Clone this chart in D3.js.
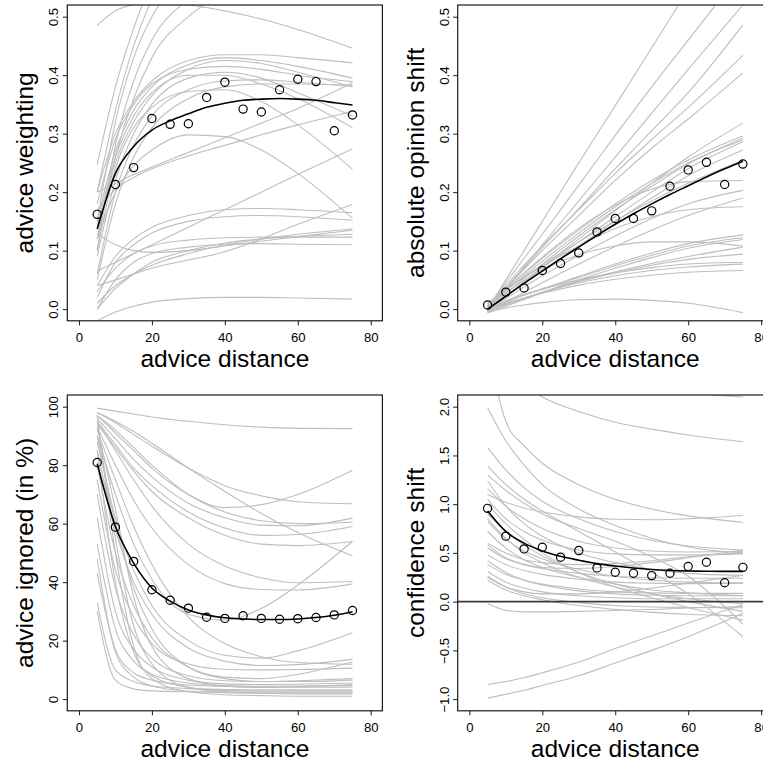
<!DOCTYPE html>
<html><head><meta charset="utf-8">
<script src="https://cdn.jsdelivr.net/npm/d3@7"></script>
<style>body{margin:0;background:#fff}svg{display:block}</style>
</head><body>
<svg id="chart" width="763" height="763"></svg>
<script>
// ---------- data ----------
const xGrid = [5, 10, 15, 20, 30, 40, 50, 60, 75];          // x positions of individual (grey) curves
const xPoints = [5, 10, 15, 20, 25, 30, 35, 40, 45, 50, 55, 60, 65, 70, 75];
const xTicks = [0, 20, 40, 60, 80];
const xLabel = "advice distance";

// panel 1: advice weighting
const weightCurves = [
  [0.485, 0.51, 0.521, 0.525, 0.52, 0.51, 0.496, 0.478, 0.446],
  [0.247, 0.38, 0.48, 0.56, 0.65, 0.7, 0.72, 0.72, 0.7],
  [0.20, 0.34, 0.45, 0.53, 0.62, 0.66, 0.68, 0.67, 0.64],
  [0.15, 0.32, 0.43, 0.5, 0.57, 0.6, 0.6, 0.58, 0.55],
  [0.10, 0.28, 0.39, 0.46, 0.53, 0.57, 0.58, 0.57, 0.55],
  [0.12, 0.26, 0.36, 0.43, 0.5, 0.54, 0.56, 0.56, 0.55],
  [0.2, 0.3, 0.355, 0.39, 0.425, 0.435, 0.435, 0.43, 0.421],
  [0.15, 0.27, 0.34, 0.38, 0.418, 0.43, 0.425, 0.415, 0.395],
  [0.12, 0.25, 0.32, 0.365, 0.41, 0.425, 0.42, 0.405, 0.38],
  [0.18, 0.29, 0.35, 0.385, 0.41, 0.415, 0.41, 0.40, 0.389],
  [0.09, 0.22, 0.3, 0.35, 0.395, 0.405, 0.395, 0.37, 0.33],
  [0.14, 0.26, 0.33, 0.37, 0.4, 0.4, 0.385, 0.36, 0.31],
  [0.1, 0.24, 0.31, 0.345, 0.372, 0.375, 0.355, 0.315, 0.239],
  [0.12, 0.2, 0.245, 0.272, 0.298, 0.295, 0.272, 0.232, 0.155],
  [0.06, 0.2, 0.28, 0.33, 0.375, 0.39, 0.392, 0.388, 0.381],
  [0.2, 0.215, 0.23, 0.243, 0.268, 0.293, 0.318, 0.343, 0.387],
  [0.17, 0.205, 0.225, 0.24, 0.262, 0.28, 0.298, 0.315, 0.338],
  [0.065, 0.08, 0.095, 0.11, 0.14, 0.17, 0.2, 0.23, 0.274],
  [0.04, 0.05, 0.06, 0.07, 0.084, 0.098, 0.12, 0.145, 0.179],
  [0.04, 0.09, 0.12, 0.14, 0.16, 0.17, 0.172, 0.17, 0.165],
  [0.02, 0.08, 0.11, 0.13, 0.15, 0.158, 0.16, 0.158, 0.152],
  [0.03, 0.07, 0.095, 0.108, 0.118, 0.122, 0.123, 0.123, 0.123],
  [0.13, 0.11, 0.1, 0.097, 0.1, 0.108, 0.116, 0.124, 0.135],
  [0.0, 0.05, 0.08, 0.095, 0.106, 0.111, 0.112, 0.111, 0.110],
  [0.01, 0.04, 0.06, 0.075, 0.095, 0.11, 0.12, 0.128, 0.137],
  [-0.02, -0.005, 0.005, 0.012, 0.018, 0.02, 0.02, 0.019, 0.017],
  [0.0, 0.035, 0.06, 0.08, 0.1, 0.113, 0.12, 0.124, 0.128],
  [0.05, 0.18, 0.26, 0.31, 0.36, 0.38, 0.385, 0.385, 0.383]
];
const weightMean = [0.137, 0.232, 0.278, 0.306, 0.322, 0.334, 0.345, 0.352, 0.357, 0.359, 0.36, 0.359, 0.357, 0.353, 0.349];
const weightPoints = [0.162, 0.213, 0.242, 0.326, 0.316, 0.317, 0.362, 0.388, 0.342, 0.337, 0.375, 0.393, 0.389, 0.305, 0.332];
const weightTicks = [0, 0.1, 0.2, 0.3, 0.4, 0.5];

// panel 2: absolute opinion shift
const shiftCurves = [
  [0.0, 0.05, 0.1, 0.15, 0.25, 0.348, 0.447, 0.546, 0.695],
  [0.003, 0.045, 0.087, 0.128, 0.212, 0.297, 0.38, 0.46, 0.58],
  [-0.005, 0.034, 0.072, 0.11, 0.185, 0.26, 0.335, 0.41, 0.52],
  [0.0, 0.036, 0.07, 0.105, 0.172, 0.24, 0.305, 0.37, 0.486],
  [0.005, 0.04, 0.075, 0.108, 0.17, 0.232, 0.29, 0.345, 0.434],
  [0.0, 0.035, 0.068, 0.1, 0.16, 0.22, 0.275, 0.325, 0.404],
  [-0.004, 0.022, 0.047, 0.072, 0.12, 0.168, 0.215, 0.26, 0.318],
  [0.006, 0.034, 0.061, 0.087, 0.135, 0.18, 0.22, 0.255, 0.296],
  [0.0, 0.026, 0.052, 0.077, 0.125, 0.17, 0.21, 0.248, 0.292],
  [0.004, 0.031, 0.057, 0.082, 0.13, 0.175, 0.215, 0.25, 0.289],
  [-0.003, 0.022, 0.046, 0.07, 0.115, 0.158, 0.2, 0.24, 0.286],
  [0.0, 0.022, 0.044, 0.066, 0.108, 0.15, 0.19, 0.228, 0.272],
  [0.008, 0.032, 0.055, 0.076, 0.115, 0.151, 0.185, 0.215, 0.255],
  [0.005, 0.034, 0.062, 0.089, 0.138, 0.178, 0.205, 0.218, 0.22],
  [-0.002, 0.018, 0.038, 0.057, 0.092, 0.125, 0.155, 0.18, 0.203],
  [-0.005, 0.012, 0.029, 0.045, 0.077, 0.107, 0.135, 0.16, 0.19],
  [0.01, 0.033, 0.054, 0.073, 0.108, 0.138, 0.158, 0.17, 0.175],
  [0.0, 0.012, 0.024, 0.035, 0.056, 0.077, 0.096, 0.112, 0.127],
  [0.002, 0.013, 0.024, 0.034, 0.054, 0.074, 0.092, 0.108, 0.122],
  [-0.006, 0.005, 0.016, 0.028, 0.05, 0.07, 0.088, 0.104, 0.119],
  [0.004, 0.028, 0.049, 0.067, 0.093, 0.108, 0.115, 0.115, 0.108],
  [-0.003, 0.008, 0.018, 0.028, 0.047, 0.062, 0.075, 0.085, 0.094],
  [0.002, 0.014, 0.025, 0.034, 0.05, 0.062, 0.071, 0.077, 0.08],
  [-0.002, 0.009, 0.019, 0.028, 0.045, 0.057, 0.066, 0.072, 0.077],
  [0.0, 0.01, 0.019, 0.027, 0.041, 0.051, 0.058, 0.063, 0.066],
  [-0.004, 0.007, 0.018, 0.029, 0.048, 0.064, 0.078, 0.09, 0.106],
  [-0.006, 0.002, 0.007, 0.011, 0.016, 0.017, 0.015, 0.01, -0.006]
];
const shiftMean = [0.0, 0.022, 0.044, 0.065, 0.086, 0.106, 0.126, 0.145, 0.163, 0.18, 0.196, 0.211, 0.226, 0.24, 0.253];
const shiftPoints = [0.007, 0.029, 0.036, 0.066, 0.078, 0.096, 0.132, 0.155, 0.155, 0.168, 0.21, 0.238, 0.251, 0.213, 0.248];
const shiftTicks = [0, 0.1, 0.2, 0.3, 0.4, 0.5];

// panel 3: advice ignored (in %)
const ignoredCurves = [
  [99.5, 98.5, 97.5, 96.5, 95, 93.8, 93, 92.6, 92.5],
  [97, 91, 85, 79, 70, 65.5, 66.5, 70, 78.3],
  [98, 94.5, 90.5, 86.5, 79, 73, 69.5, 67.5, 66.8],
  [96, 89, 82, 76, 67, 62, 59.5, 59.3, 61.9],
  [97, 92, 86, 80, 70, 64, 61, 60, 60.5],
  [95, 87, 79, 73, 64, 58.5, 56, 56.3, 59],
  [94, 86, 78, 71, 62, 56, 53, 52.5, 53.9],
  [98, 95, 91.5, 87.5, 79, 71, 63.5, 57, 49],
  [95, 85, 75, 66, 53, 45.5, 41.5, 39.8, 40.2],
  [93, 80, 68, 58.5, 46, 39.5, 37.5, 37.3, 39.4],
  [90, 70, 53, 41, 29, 27, 31, 39, 54],
  [88, 62, 44, 32, 20, 15, 14, 16.5, 22.7],
  [85, 58, 40, 29, 17.5, 13, 11.5, 11.8, 13.6],
  [80, 50, 32, 21, 11, 7.5, 7, 8.5, 12.7],
  [92, 75, 59, 46, 28, 19, 14.5, 12.5, 11.9],
  [75, 44, 28, 19, 12, 10.2, 10, 10.1, 10.6],
  [70, 38, 22, 14, 8, 6.3, 6, 6.3, 7],
  [62, 30, 17, 11, 6.5, 5.2, 5, 5.1, 5.5],
  [53, 24, 13, 8.5, 5.5, 4.6, 4.4, 4.5, 4.7],
  [43, 17, 9, 6.5, 4.8, 4.3, 4.1, 4.1, 4.1],
  [33, 10, 6, 4.5, 3.6, 3.3, 3.2, 3.2, 3.2],
  [30, 6.5, 3.5, 2.8, 2.5, 2.4, 2.4, 2.4, 2.4],
  [95, 55, 25, 12, 4, 2.5, 2, 1.8, 1.8],
  [97, 50, 18, 7, 2.5, 1.5, 1.2, 1.0, 1.0],
  [93, 65, 35, 18, 7, 4.5, 4, 4.2, 5],
  [90, 60, 38, 24, 11, 7, 6, 6, 6.5],
  [85, 40, 16, 8, 4, 3, 2.8, 2.8, 2.8],
  [48, 16, 7.5, 4.5, 2.7, 2.2, 2, 2, 2]
];
const ignoredMean = [80.5, 59, 46.5, 38, 33.5, 30.5, 28.8, 27.8, 27.4, 27.2, 27.2, 27.4, 27.9, 28.7, 29.9];
const ignoredPoints = [80.9, 58.8, 47.1, 37.4, 33.8, 31.1, 28.0, 27.6, 28.5, 27.6, 27.3, 27.5, 27.9, 28.8, 30.3];
const ignoredTicks = [0, 20, 40, 60, 80, 100];

// panel 4: confidence shift
const confCurves = [
  [2.5, 2.35, 2.22, 2.1, 1.95, 1.84, 1.77, 1.71, 1.64],
  [4.2, 3.6, 3.2, 2.9, 2.55, 2.35, 2.22, 2.15, 2.1],
  [2.6, 1.85, 1.6, 1.42, 1.2, 1.05, 0.95, 0.88, 0.815],
  [1.1, 1.02, 0.96, 0.92, 0.87, 0.845, 0.84, 0.85, 0.884],
  [1.99, 1.65, 1.4, 1.2, 0.95, 0.78, 0.65, 0.56, 0.5],
  [1.58, 1.35, 1.17, 1.03, 0.85, 0.72, 0.63, 0.57, 0.53],
  [1.39, 1.2, 1.05, 0.93, 0.72, 0.51, 0.3, 0.08, -0.36],
  [1.3, 1.14, 1.01, 0.9, 0.75, 0.62, 0.46, 0.26, -0.23],
  [1.16, 0.98, 0.85, 0.75, 0.62, 0.55, 0.52, 0.51, 0.515],
  [1.05, 0.85, 0.72, 0.63, 0.53, 0.49, 0.48, 0.48, 0.49],
  [1.24, 0.98, 0.8, 0.67, 0.5, 0.4, 0.33, 0.29, 0.27],
  [0.82, 0.64, 0.52, 0.44, 0.33, 0.26, 0.22, 0.2, 0.19],
  [0.72, 0.55, 0.43, 0.35, 0.25, 0.18, 0.12, 0.09, 0.06],
  [0.58, 0.45, 0.38, 0.35, 0.34, 0.36, 0.4, 0.45, 0.53],
  [0.55, 0.44, 0.38, 0.34, 0.29, 0.26, 0.245, 0.24, 0.24],
  [0.48, 0.38, 0.32, 0.28, 0.23, 0.2, 0.19, 0.185, 0.19],
  [0.38, 0.28, 0.22, 0.18, 0.13, 0.1, 0.09, 0.085, 0.085],
  [0.31, 0.2, 0.14, 0.1, 0.06, 0.04, 0.03, 0.03, 0.03],
  [0.26, 0.15, 0.08, 0.04, -0.01, -0.04, -0.055, -0.06, -0.063],
  [0.22, 0.12, 0.06, 0.02, -0.04, -0.08, -0.11, -0.13, -0.145],
  [1.0, 0.8, 0.64, 0.5, 0.3, 0.15, 0.04, -0.06, -0.19],
  [0.9, 0.72, 0.58, 0.47, 0.3, 0.18, 0.08, 0.0, -0.10],
  [0.6, 0.5, 0.43, 0.4, 0.38, 0.39, 0.42, 0.46, 0.5],
  [0.85, 0.65, 0.5, 0.4, 0.25, 0.15, 0.08, 0.03, -0.02],
  [0.42, 0.3, 0.22, 0.17, 0.11, 0.08, 0.065, 0.06, 0.06],
  [0.25, 0.15, 0.1, 0.08, 0.08, 0.1, 0.14, 0.19, 0.27],
  [-0.02, -0.09, -0.105, -0.105, -0.1, -0.09, -0.08, -0.065, -0.05],
  [-0.85, -0.82, -0.78, -0.73, -0.62, -0.48, -0.35, -0.22, -0.03],
  [-0.99, -0.95, -0.91, -0.86, -0.76, -0.63, -0.5, -0.36, -0.12]
];
const confMean = [0.93, 0.72, 0.6, 0.52, 0.465, 0.425, 0.39, 0.365, 0.345, 0.33, 0.32, 0.315, 0.312, 0.31, 0.31];
const confPoints = [0.957, 0.672, 0.541, 0.558, 0.456, 0.524, 0.346, 0.301, 0.291, 0.267, 0.291, 0.36, 0.404, 0.194, 0.352];
const confTicks = [-1, -0.5, 0, 0.5, 1, 1.5, 2];

// ---------- layout ----------
const panels = [
  {col: 0, row: 0, ylab: "advice weighting", ylim: [0, 0.5], ticks: weightTicks, fmt: d3.format(".1f"), curves: weightCurves, mean: weightMean, points: weightPoints, zero: false},
  {col: 1, row: 0, ylab: "absolute opinion shift", ylim: [0, 0.5], ticks: shiftTicks, fmt: d3.format(".1f"), curves: shiftCurves, mean: shiftMean, points: shiftPoints, zero: false},
  {col: 0, row: 1, ylab: "advice ignored (in %)", ylim: [0, 100], ticks: ignoredTicks, fmt: d3.format("d"), curves: ignoredCurves, mean: ignoredMean, points: ignoredPoints, zero: false},
  {col: 1, row: 1, ylab: "confidence shift", ylim: [-1, 2], ticks: confTicks, fmt: d => d3.format(".1f")(d).replace("-", "\u2212"), curves: confCurves, mean: confMean, points: confPoints, zero: true}
];

const colW = 390.4, rowH = 390;
const mLeft = 67.3, mTop = 5;
const plotW = 315.1, plotH = 315.8;
const font = "'Liberation Sans', Arial, Helvetica, sans-serif";
const svg = d3.select("#chart");
const xLim = [0, 80];
const ext = (l) => { const e = 0.04 * (l[1] - l[0]); return [l[0] - e, l[1] + e]; };

panels.forEach((p, pi) => {
  const left = p.col * colW + mLeft;
  const top = p.row * rowH + mTop;
  const x = d3.scaleLinear().domain(ext(xLim)).range([left, left + plotW]);
  const y = d3.scaleLinear().domain(ext(p.ylim)).range([top + plotH, top]);
  const g = svg.append("g");

  g.append("clipPath").attr("id", "clip" + pi)
    .append("rect").attr("x", left).attr("y", top).attr("width", plotW).attr("height", plotH);
  const inner = g.append("g").attr("clip-path", `url(#clip${pi})`);

  const greyLine = d3.line().x((d, i) => x(xGrid[i])).y(d => y(d)).curve(d3.curveMonotoneX);
  inner.selectAll("path.grey").data(p.curves).join("path")
    .attr("class", "grey").attr("d", greyLine)
    .attr("fill", "none").attr("stroke", "#bebebe").attr("stroke-width", 1.1);

  if (p.zero) {
    inner.append("line").attr("x1", left).attr("x2", left + plotW)
      .attr("y1", y(0)).attr("y2", y(0)).attr("stroke", "#3a3a3a").attr("stroke-width", 1.8);
  }

  const meanLine = d3.line().x((d, i) => x(xPoints[i])).y(d => y(d)).curve(d3.curveMonotoneX);
  inner.append("path").datum(p.mean).attr("d", meanLine)
    .attr("fill", "none").attr("stroke", "#000").attr("stroke-width", 1.6);

  inner.selectAll("circle").data(p.points).join("circle")
    .attr("cx", (d, i) => x(xPoints[i])).attr("cy", d => y(d)).attr("r", 4.1)
    .attr("fill", "none").attr("stroke", "#000").attr("stroke-width", 1.2);

  // box
  g.append("rect").attr("x", left).attr("y", top).attr("width", plotW).attr("height", plotH)
    .attr("fill", "none").attr("stroke", "#1a1a1a").attr("stroke-width", 1.2);

  // x axis
  const xa = g.append("g").attr("transform", `translate(0,${top + plotH})`)
    .call(d3.axisBottom(x).tickValues(xTicks).tickSize(4.5).tickSizeOuter(0).tickFormat(d3.format("d")));
  xa.select(".domain").remove();
  xa.selectAll(".tick line").attr("stroke", "#1a1a1a").attr("stroke-width", 1);
  xa.selectAll(".tick text").attr("y", 21.5).attr("dy", null)
    .attr("font-family", font).attr("font-size", 13.2).attr("fill", "#000");

  // y axis
  const ya = g.append("g").attr("transform", `translate(${left},0)`)
    .call(d3.axisLeft(y).tickValues(p.ticks).tickSize(4.5).tickSizeOuter(0).tickFormat(p.fmt));
  ya.select(".domain").remove();
  ya.selectAll(".tick line").attr("stroke", "#1a1a1a").attr("stroke-width", 1);
  ya.selectAll(".tick text").attr("x", null).attr("dy", null)
    .attr("transform", "translate(-9,0) rotate(-90)")
    .attr("text-anchor", "middle")
    .attr("font-family", font).attr("font-size", 13.2).attr("fill", "#000");

  // titles
  g.append("text").attr("x", left + plotW / 2).attr("y", top + plotH + 46.5)
    .attr("text-anchor", "middle").attr("font-family", font).attr("font-size", 24.5)
    .text(xLabel);
  g.append("text")
    .attr("transform", `translate(${left - 34},${top + plotH / 2}) rotate(-90)`)
    .attr("text-anchor", "middle").attr("font-family", font).attr("font-size", 24.5)
    .text(p.ylab);
});
</script>
</body></html>
